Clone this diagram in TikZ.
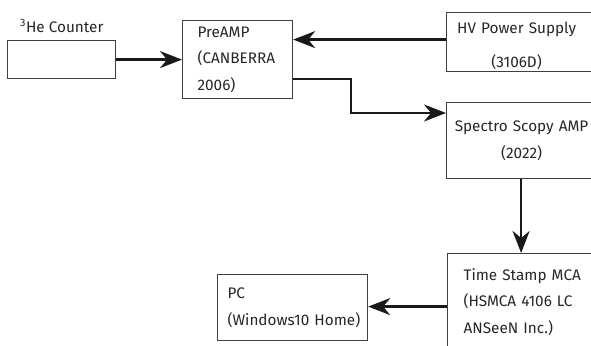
\documentclass[tikz,border=0pt]{standalone}
\usepackage{fontspec}
\setmainfont{Fira Sans}
\usetikzlibrary{arrows.meta}
\begin{document}
\begin{tikzpicture}[x=1pt,y=-1pt,
  txt/.style={font=\fontsize{15.3}{26.5}\selectfont, text=black!85},
  box/.style={txt, draw=black!75, line width=1.2pt, inner ysep=0pt, inner xsep=0pt, align=left, anchor=north west},
  conn/.style={line width=2.4pt, draw=black!90, -{Stealth[length=22pt,width=17pt,inset=7pt]}}]
\useasboundingbox (0,0) rectangle (591,345);
\clip (0,0) rectangle (591,345);
% boxes
\node[box, minimum width=108pt, minimum height=38pt] (he) at (7,40) {};
\node[txt, anchor=west, inner sep=0pt] (helabel) at (20,26) {\textsuperscript{3}He Counter};
\node[box, text width=110pt, minimum height=78pt] (pre) at (182,20)
  {\hspace*{15pt}PreAMP\\\hspace*{15pt}(CANBERRA\\\hspace*{15pt}2006)};
\node[box, text width=149pt, minimum height=59pt] (hv) at (446,12)
  {\rule{0pt}{19pt}\makebox[140pt]{HV Power Supply}\\[7.5pt]\makebox[140pt]{(3106D)}};
\node[box, text width=149pt, minimum height=76pt] (sp) at (446,102)
  {\makebox[150pt]{Spectro Scopy AMP}\\\makebox[150pt]{(2022)}};
\node[box, text width=148pt, minimum height=97pt] (ts) at (447,253)
  {\hspace*{16pt}Time Stamp MCA\\\hspace*{16pt}(HSMCA 4106 LC\\\hspace*{16pt}ANSeeN Inc.)};
\node[box, text width=150pt, minimum height=66pt] (pc) at (217,274)
  {\hspace*{10pt}PC\\\hspace*{10pt}(Windows10 Home)};
% connectors
\draw[conn] (he.east) -- (pre.west);
\draw[conn] ([yshift=2.5pt]hv.west) -- ([yshift=2.5pt]hv.west -| pre.east);
\draw[conn] ([yshift=20pt]pre.south east) -- ++(58,0) |- ([yshift=-11pt]sp.north west);
\draw[conn] (sp.south) -- (sp.south |- ts.north);
\draw[conn] ([yshift=-4.5pt]ts.west) -- ([yshift=-4.5pt]ts.west -| pc.east);
\end{tikzpicture}
\end{document}
